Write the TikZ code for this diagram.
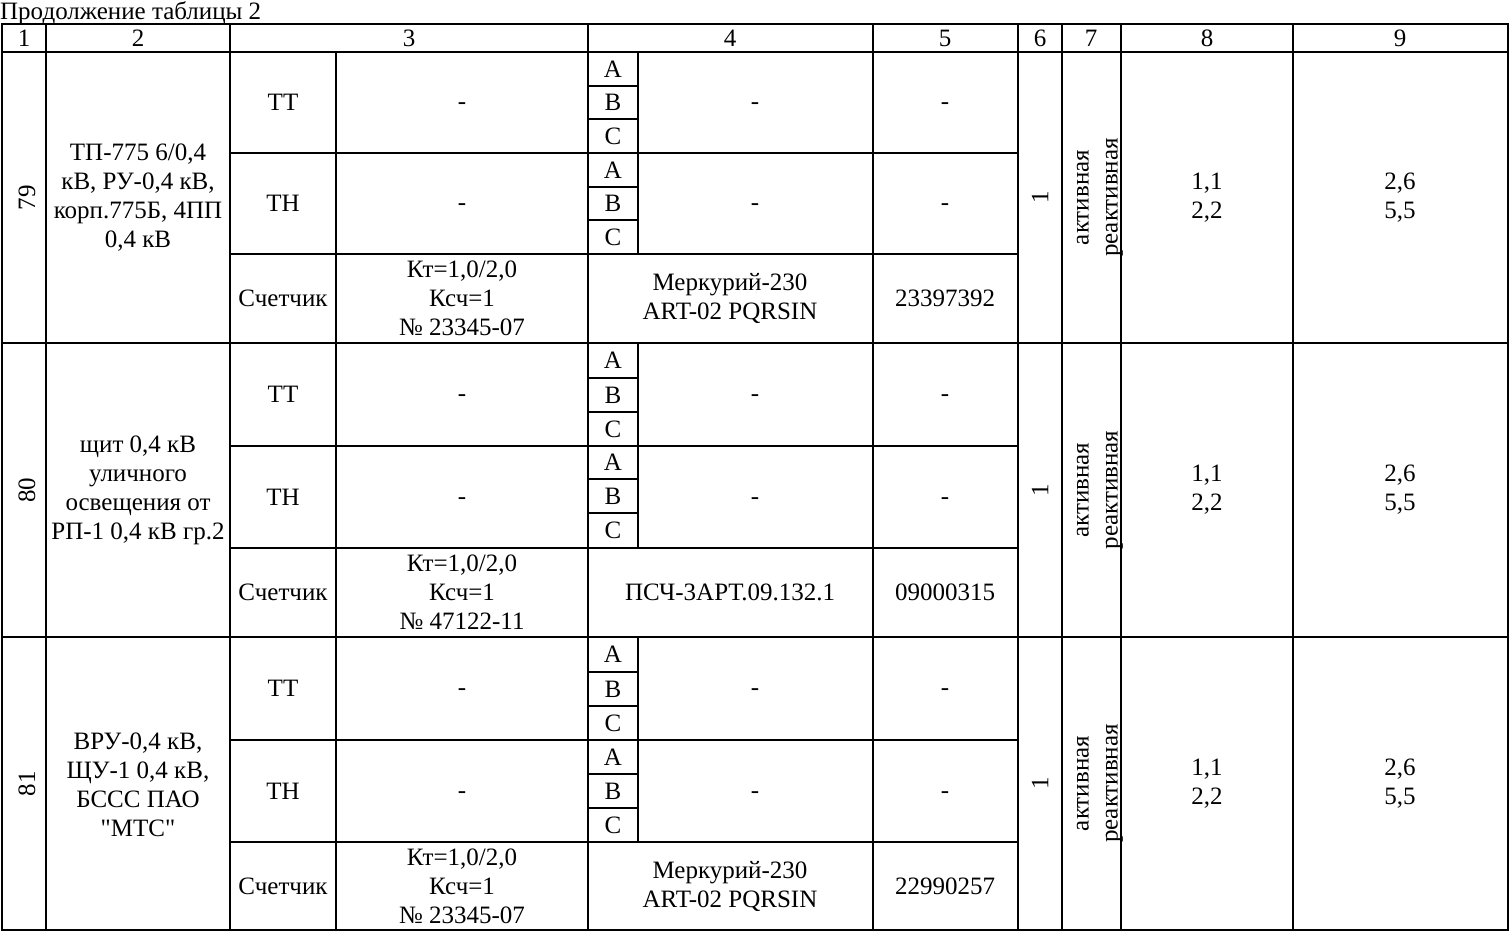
\documentclass[tikz,border=0pt]{standalone}
\usepackage{fontspec}
\setmainfont{Liberation Serif}[Ligatures=TeXOff]
\begin{document}
\begin{tikzpicture}[x=1pt,y=-1pt,
  txt/.style={font=\fontsize{25}{29}\selectfont, align=center, inner sep=0pt},
  dashcell/.style={txt, yshift=-4pt},
  rot/.style={txt, rotate=90},
  gridline/.style={line width=2.2pt, line cap=rect}]
\useasboundingbox (0,0) rectangle (1512,932);
\node[anchor=base west, inner sep=0pt, font=\fontsize{25}{29}\selectfont] (title) at (0,19) {Продолжение таблицы 2};
% header
\draw[gridline] (2,24) rectangle (1508,930);
\draw[gridline] (2,52) -- (1508,52);
\foreach \x in {46,230,588,873,1018,1062,1121,1293}
  \draw[gridline] (\x,24) -- (\x,930);
\draw[gridline] (336,52) -- (336,930);
\foreach \t/\x in {1/24,2/138,3/409,4/730,5/945,6/1040,7/1091,8/1207,9/1400}
  \node[txt] (h\t) at (\x,38) {\t};
% blocks geometry
\foreach \n/\a/\b/\c/\d/\e/\f/\g/\h in {79/52/86/119/153/187/220/254/343, 80/343/378/412/446/479/513/548/637, 81/637/672/706/740/774/808/842/930}{
  \draw[gridline] (2,\h) -- (1508,\h);
  \draw[gridline] (230,\d) -- (1018,\d);
  \draw[gridline] (230,\g) -- (1018,\g);
  \draw[gridline] (638,\a) -- (638,\g);
  \foreach \y in {\b,\c,\e,\f} \draw[gridline] (588,\y) -- (638,\y);
  \node[txt] (a1\n) at (613,{(\a+\b)/2}) {A};
  \node[txt] (b1\n) at (613,{(\b+\c)/2}) {B};
  \node[txt] (c1\n) at (613,{(\c+\d)/2}) {C};
  \node[txt] (a2\n) at (613,{(\d+\e)/2}) {A};
  \node[txt] (b2\n) at (613,{(\e+\f)/2}) {B};
  \node[txt] (c2\n) at (613,{(\f+\g)/2}) {C};
  \node[txt] (tt\n) at (283,{(\a+\d)/2}) {ТТ};
  \node[txt] (tn\n) at (283,{(\d+\g)/2}) {ТН};
  \node[txt] (sc\n) at (283,{(\g+\h)/2}) {Счетчик};
  \node[dashcell] (ttd3\n) at (462,{(\a+\d)/2}) {-};
  \node[dashcell] (tnd3\n) at (462,{(\d+\g)/2}) {-};
  \node[dashcell] (ttd4\n) at (755,{(\a+\d)/2}) {-};
  \node[dashcell] (tnd4\n) at (755,{(\d+\g)/2}) {-};
  \node[dashcell] (ttd5\n) at (945,{(\a+\d)/2}) {-};
  \node[dashcell] (tnd5\n) at (945,{(\d+\g)/2}) {-};
  \node[rot] (num\n) at (27,{(\a+\h)/2}) {\n};
  \node[rot] (one\n) at (1040,{(\a+\h)/2}) {1};
  \node[rot] (kind\n) at (1100,{(\a+\h)/2}) {активная\\реактивная};
  \node[txt] (c8\n) at (1207,{(\a+\h)/2}) {1,1\\2,2};
  \node[txt] (c9\n) at (1400,{(\a+\h)/2}) {2,6\\5,5};
}
% block 79
\node[txt] (name79) at (138,198) {ТП-775 6/0,4\\кВ, РУ-0,4 кВ,\\корп.775Б, 4ПП\\0,4 кВ};
\node[txt] (k79) at (462,298) {Кт=1,0/2,0\\Ксч=1\\№ 23345-07};
\node[txt] (m79) at (730,298) {Меркурий-230\\ART-02 PQRSIN};
\node[txt] (s79) at (945,298) {23397392};
% block 80
\node[txt] (name80) at (138,490) {щит 0,4 кВ\\уличного\\освещения от\\РП-1 0,4 кВ гр.2};
\node[txt] (k80) at (462,592) {Кт=1,0/2,0\\Ксч=1\\№ 47122-11};
\node[txt] (m80) at (730,592) {ПСЧ-3АРТ.09.132.1};
\node[txt] (s80) at (945,592) {09000315};
% block 81
\node[txt] (name81) at (138,785) {ВРУ-0,4 кВ,\\ЩУ-1 0,4 кВ,\\БССС ПАО\\"МТС"};
\node[txt] (k81) at (462,886) {Кт=1,0/2,0\\Ксч=1\\№ 23345-07};
\node[txt] (m81) at (730,886) {Меркурий-230\\ART-02 PQRSIN};
\node[txt] (s81) at (945,886) {22990257};
\end{tikzpicture}
\end{document}
